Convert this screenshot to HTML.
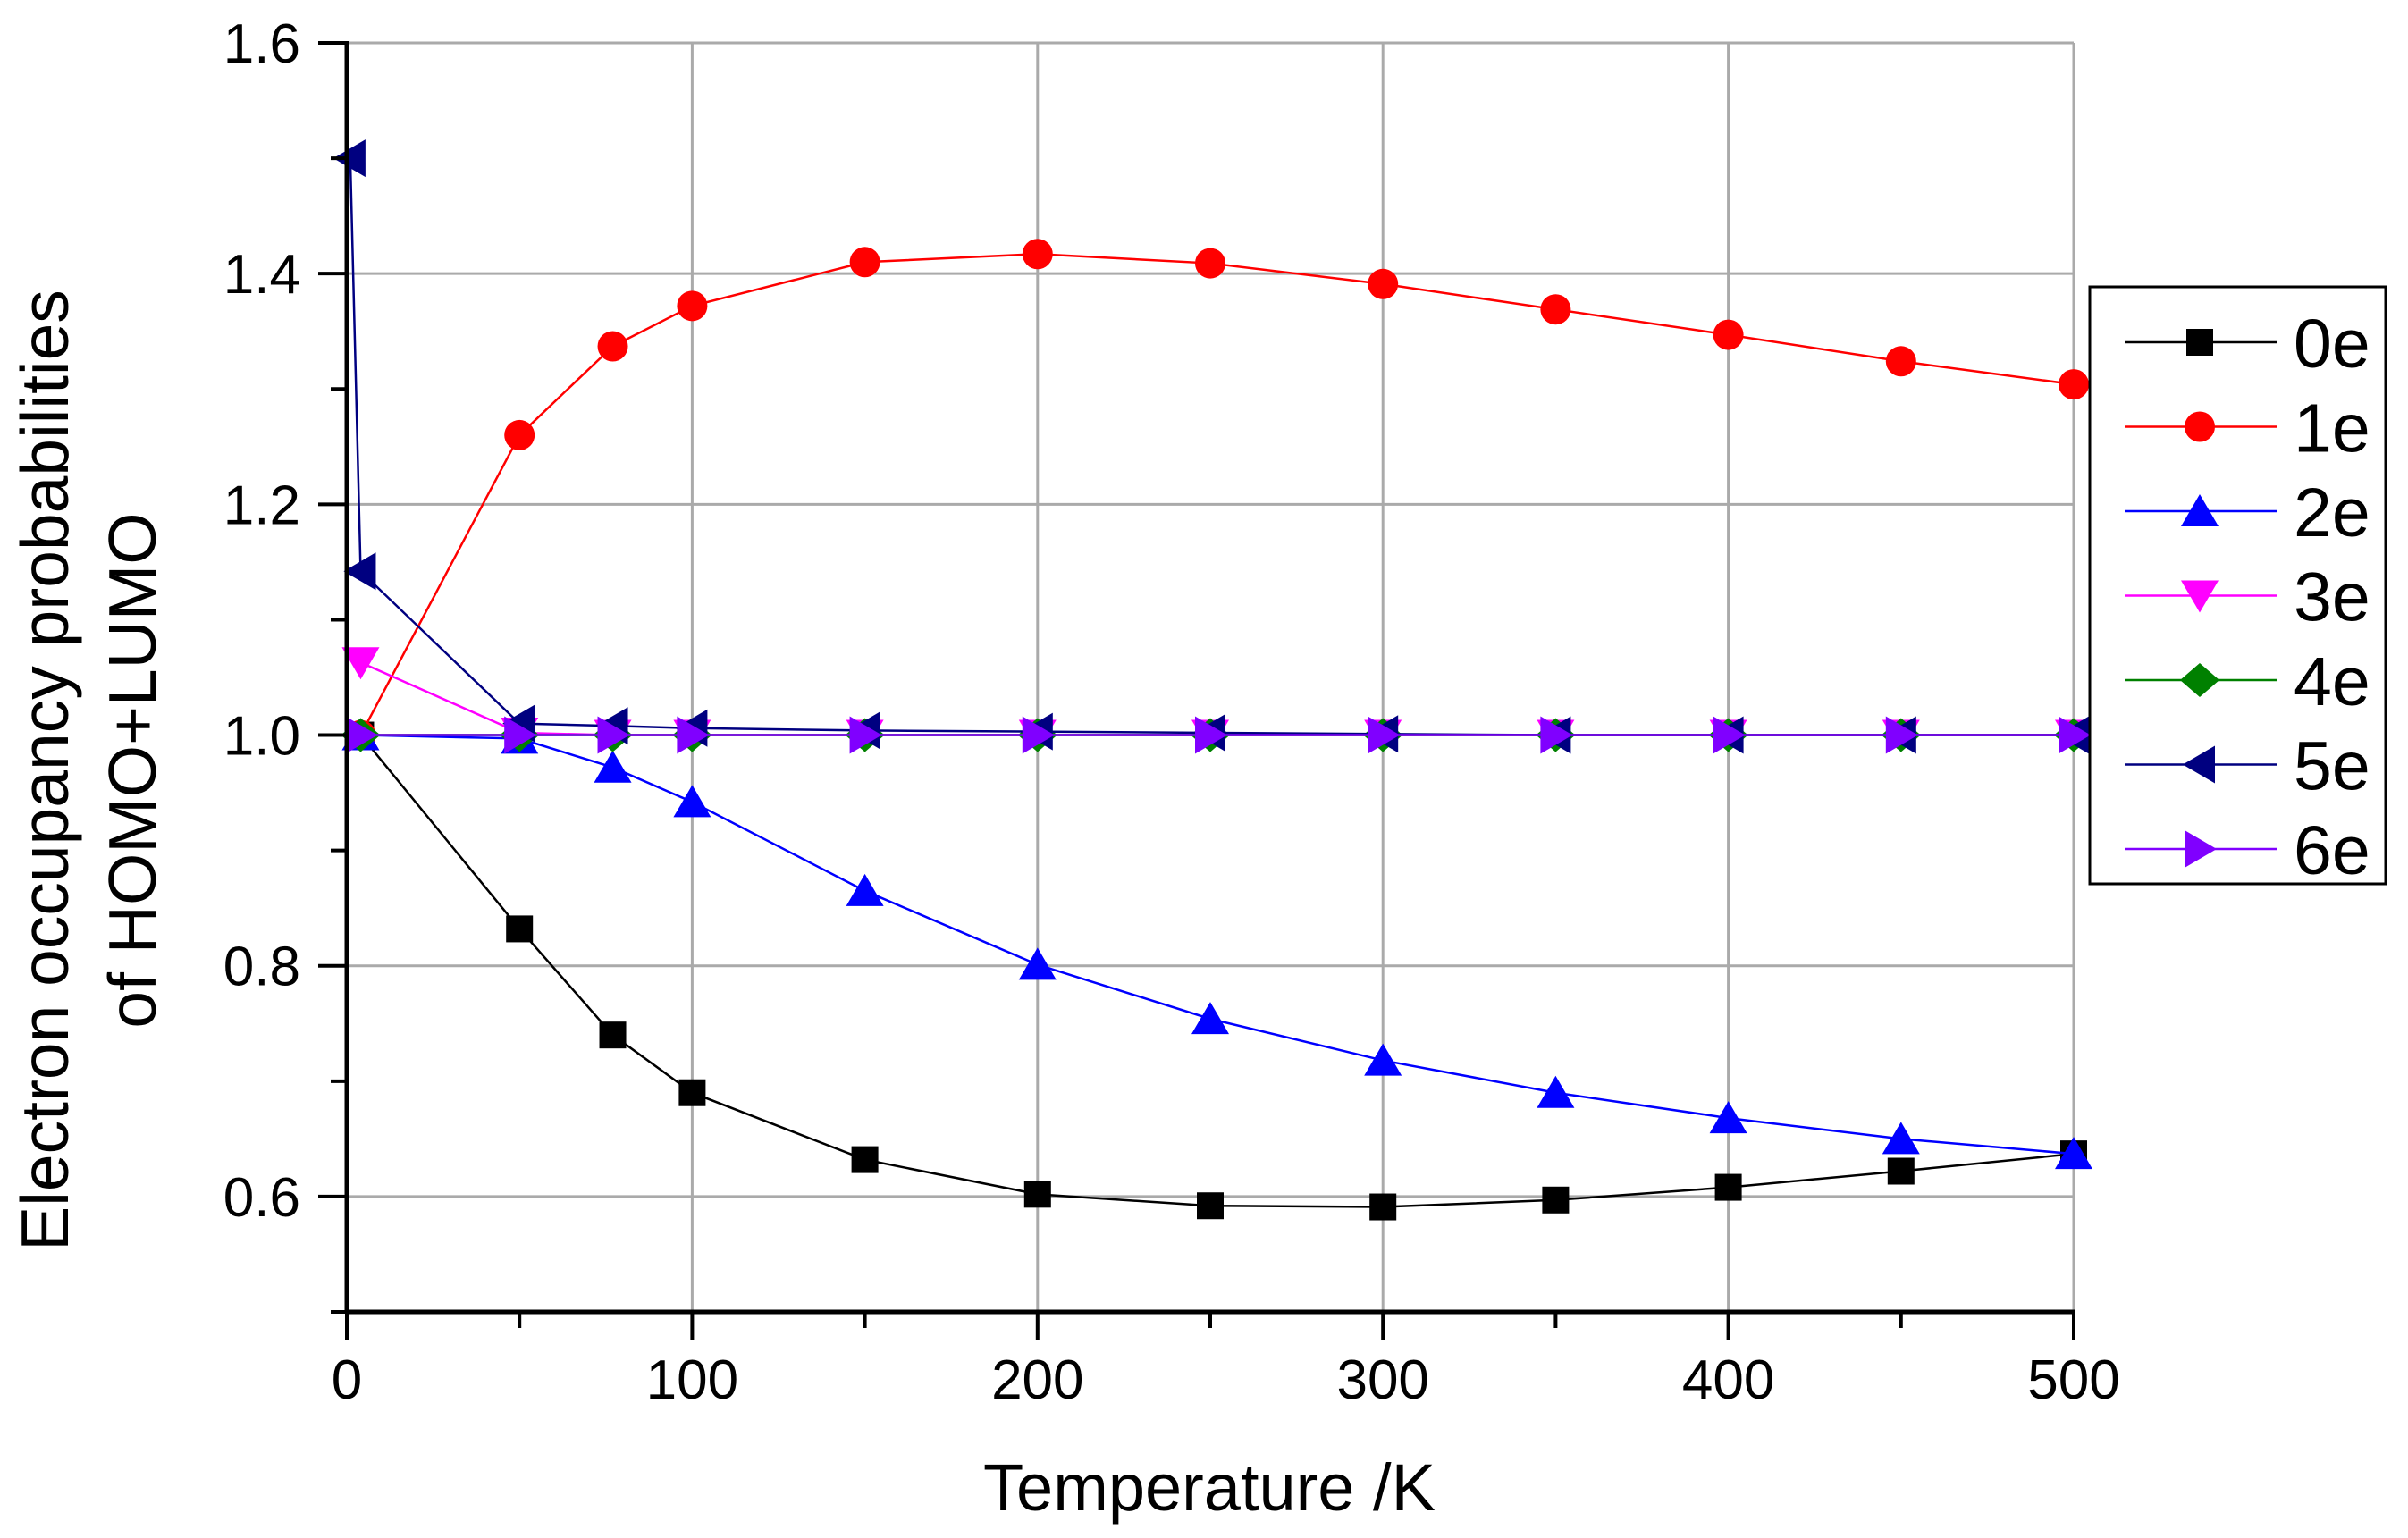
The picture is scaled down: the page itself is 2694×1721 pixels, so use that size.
<!DOCTYPE html>
<html><head><meta charset="utf-8"><style>
html,body{margin:0;padding:0;background:#fff;}
svg{display:block;font-family:"Liberation Sans",sans-serif;}
</style></head><body>
<svg id="chart" width="2694" height="1721" viewBox="0 0 2694 1721" xmlns="http://www.w3.org/2000/svg">
<g id="grid"></g>
<g id="series"></g>
<g id="axes"></g>
<text x="1353" y="1690" font-size="74" text-anchor="middle">Temperature /K</text>
<text transform="translate(76,862) rotate(-90)" font-size="75" text-anchor="middle">Electron occupancy probabilities</text>
<text transform="translate(174,862) rotate(-90)" font-size="75" text-anchor="middle">of HOMO+LUMO</text>
<g id="legend"></g>
</svg>
<script>
const xTicks=[0,100,200,300,400,500];
const yTicks=[0.6,0.8,1.0,1.2,1.4,1.6];
const yTickLabels=["0.6","0.8","1.0","1.2","1.4","1.6"];
const seriesNames=["0e","1e","2e","3e","4e","5e","6e"];
const tempsStd=[4,50,77,100,150,200,250,300,350,400,450,500];
const temps5e=[1,4,50,77,100,150,200,250,300,350,400,450,500];
const vals0e=[1.0,0.832,0.74,0.69,0.632,0.602,0.592,0.591,0.597,0.608,0.622,0.637];
const vals1e=[1.0,1.26,1.337,1.372,1.41,1.417,1.409,1.391,1.369,1.347,1.324,1.304];
const vals2e=[1.0,0.997,0.972,0.942,0.865,0.801,0.754,0.718,0.69,0.668,0.65,0.637];
const vals3e=[1.063,1.002,1.0,1.0,1.0,1.0,1.0,1.0,1.0,1.0,1.0,1.0];
const vals4e=[1.0,1.0,1.0,1.0,1.0,1.0,1.0,1.0,1.0,1.0,1.0,1.0];
const vals5e=[1.5,1.142,1.01,1.008,1.006,1.004,1.003,1.002,1.001,1.0,1.0,1.0,1.0];
const vals6e=[1.0,1.0,1.0,1.0,1.0,1.0,1.0,1.0,1.0,1.0,1.0,1.0];

const NS="http://www.w3.org/2000/svg";
const X0=388,X1=2320,YB=1468,YT=48,YMIN=0.5,YMAX=1.6;
const xs=v=>X0+(v/500)*(X1-X0);
const ys=v=>YB-(v-YMIN)/(YMAX-YMIN)*(YB-YT);
function mk(tag,attrs,parent){const e=document.createElementNS(NS,tag);for(const k in attrs)e.setAttribute(k,attrs[k]);parent.appendChild(e);return e;}
const grid=document.getElementById('grid'),axes=document.getElementById('axes'),ser=document.getElementById('series'),leg=document.getElementById('legend');

xTicks.forEach(t=>{if(t>0){const l=mk('line',{x1:xs(t),x2:xs(t),y1:YT,y2:YB,stroke:'#aaa','stroke-width':3},grid);

}});
yTicks.forEach(t=>{const l=mk('line',{x1:X0,x2:X1,y1:ys(t),y2:ys(t),stroke:'#aaa','stroke-width':3},grid);

});

mk('line',{x1:X0,x2:X0,y1:YT-2,y2:YB+2,stroke:'#000','stroke-width':5},axes);
mk('line',{x1:X0-2,x2:X1+2,y1:YB,y2:YB,stroke:'#000','stroke-width':5},axes);
for(let t=0;t<=500;t+=50){const maj=t%100===0;mk('line',{x1:xs(t),x2:xs(t),y1:YB,y2:YB+(maj?32:18),stroke:'#000','stroke-width':4},axes);}
for(let v=0.5;v<=1.601;v+=0.1){const maj=Math.round(v*10)%2===0;mk('line',{x1:X0-(maj?32:18),x2:X0,y1:ys(v),y2:ys(v),stroke:'#000','stroke-width':4},axes);}
xTicks.forEach(t=>{const e=mk('text',{x:xs(t),y:1565,'font-size':62,'text-anchor':'middle'},axes);e.textContent=t;

});
yTicks.forEach((t,i)=>{const e=mk('text',{x:336,y:ys(t)+22,'font-size':62,'text-anchor':'end'},axes);e.textContent=yTickLabels[i];

});

function marker(shape,cx,cy,color,p){
 if(shape==='sq')return mk('rect',{x:cx-15,y:cy-15,width:30,height:30,fill:color},p);
 if(shape==='ci')return mk('circle',{cx:cx,cy:cy,r:17,fill:color},p);
 let pts;
 if(shape==='up')pts=[[0,-19],[21,17],[-21,17]];
 if(shape==='dn')pts=[[0,19],[21,-17],[-21,-17]];
 if(shape==='di')pts=[[0,-19],[22,0],[0,19],[-22,0]];
 if(shape==='lf')pts=[[-19,0],[17,-21],[17,21]];
 if(shape==='rt')pts=[[19,0],[-17,-21],[-17,21]];
 return mk('polygon',{points:pts.map(q=>(cx+q[0])+','+(cy+q[1])).join(' '),fill:color},p);
}
const defs=[
 {x:tempsStd,v:vals0e,c:'#000000',s:'sq'},
 {x:tempsStd,v:vals1e,c:'#ff0000',s:'ci'},
 {x:tempsStd,v:vals2e,c:'#0000ff',s:'up'},
 {x:tempsStd,v:vals3e,c:'#ff00ff',s:'dn'},
 {x:tempsStd,v:vals4e,c:'#008000',s:'di'},
 {x:temps5e,v:vals5e,c:'#000080',s:'lf'},
 {x:tempsStd,v:vals6e,c:'#8000ff',s:'rt'}];
defs.forEach((d,i)=>{
 const g=mk('g',{},ser);
 
 
 const pl=mk('polyline',{points:d.x.map((t,j)=>xs(t)+','+ys(d.v[j])).join(' '),fill:'none',stroke:d.c,'stroke-width':2.5},g);
 
 
 d.x.forEach((t,j)=>{const m=marker(d.s,xs(t),ys(d.v[j]),d.c,g);
 
 });
});

mk('rect',{x:2338,y:321,width:331,height:668,fill:'#fff',stroke:'#000','stroke-width':3},leg);
defs.forEach((d,i)=>{
 const y=383+i*94.5;
 const g=mk('g',{},leg);
 
 
 mk('line',{x1:2377,x2:2547,y1:y,y2:y,stroke:d.c,'stroke-width':2.5},g);
 marker(d.s,2461,y,d.c,g);
 const t=mk('text',{x:2566,y:y+28,'font-size':77},g);t.textContent=seriesNames[i];
});
</script>
</body></html>
